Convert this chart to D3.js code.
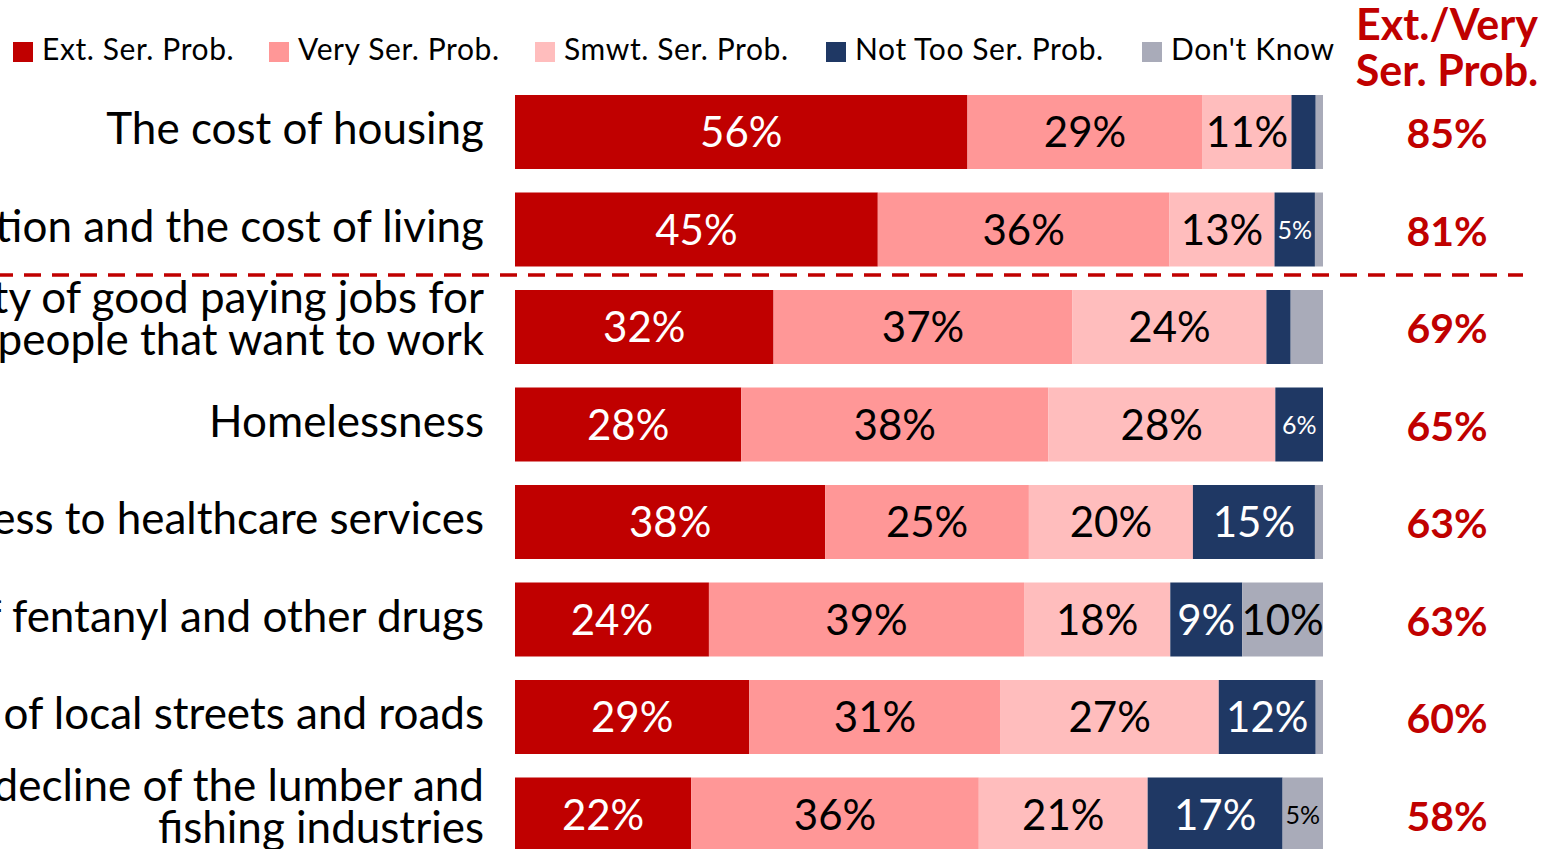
<!DOCTYPE html>
<html>
<head>
<meta charset="utf-8">
<script src="https://cdn.jsdelivr.net/npm/d3@7"></script>
<style>
  html, body { margin: 0; padding: 0; background: #fff; overflow: hidden; }
  svg { display: block; font-family: Lato, "Open Sans", sans-serif; }
</style>
</head>
<body>
<svg id="chart" width="1547" height="849"></svg>
<script>
// ---- data ----
const categories = [
  ["The cost of housing"],
  ["Inflation and the cost of living"],
  ["Availability of good paying jobs for", "people that want to work"],
  ["Homelessness"],
  ["Access to healthcare services"],
  ["Abuse of fentanyl and other drugs"],
  ["Condition of local streets and roads"],
  ["The decline of the lumber and", "fishing industries"]
];
const seriesNames = ["Ext. Ser. Prob.", "Very Ser. Prob.", "Smwt. Ser. Prob.", "Not Too Ser. Prob.", "Don't Know"];
const extSer   = [56.0, 44.9, 32.0, 28.0, 38.4, 24.0, 29.0, 21.8];
const verySer  = [29.1, 36.1, 37.0, 38.0, 25.2, 39.0, 31.1, 35.6];
const smwtSer  = [11.0, 13.0, 24.0, 28.1, 20.3, 18.1, 27.0, 20.9];
const notToo   = [3.0, 5.0, 3.0, 5.9, 15.1, 8.9, 12.0, 16.7];
const dontKnow = [0.9, 1.0, 4.0, 0.0, 1.0, 10.0, 0.9, 5.0];
const totals   = [85, 81, 69, 65, 63, 63, 60, 58];
const totalHeader = ["Ext./Very", "Ser. Prob."];

const colors = ["#c00000", "#ff9797", "#ffbdbd", "#1f3864", "#a9abb9"];
const labelColors = ["#ffffff", "#000000", "#000000", "#ffffff", "#000000"];
const series = [extSer, verySer, smwtSer, notToo, dontKnow];

// ---- layout ----
const svg = d3.select("#chart");
const x = d3.scaleLinear().domain([0, 100]).range([515, 1323]);
const y = d3.scaleBand().domain(d3.range(categories.length))
  .range([83.25, 863.25]).paddingInner(0.241).paddingOuter(0.1205);

const dark = "#c00000";

// stacked data
const rows = categories.map((c, i) => {
  let acc = 0;
  return series.map((s, k) => {
    const v = s[i];
    const seg = { row: i, k, v, x0: acc, x1: acc + v };
    acc += v;
    return seg;
  });
});

// bars
const g = svg.append("g");
rows.forEach(segs => {
  g.selectAll(null).data(segs.filter(d => d.v > 0)).enter().append("rect")
    .attr("x", d => x(d.x0))
    .attr("y", d => y(d.row))
    .attr("width", d => x(d.x1) - x(d.x0))
    .attr("height", y.bandwidth())
    .attr("fill", d => colors[d.k]);
  g.selectAll(null).data(segs.filter(d => Math.round(d.v) >= 5)).enter().append("text")
    .attr("x", d => (x(d.x0) + x(d.x1)) / 2)
    .attr("y", d => y(d.row) + y.bandwidth() / 2 + (Math.round(d.v) <= 6 ? 9 : 15))
    .attr("text-anchor", "middle")
    .attr("font-size", d => Math.round(d.v) <= 6 ? 25 : 42)
    .attr("fill", d => labelColors[d.k])
    .text(d => Math.round(d.v) + "%");
});

// category labels
categories.forEach((lines, i) => {
  const cy = y(i) + y.bandwidth() / 2;
  const t = svg.append("text")
    .attr("text-anchor", "end")
    .attr("font-size", 44)
    .attr("fill", "#000");
  const n = lines.length;
  lines.forEach((ln, j) => {
    t.append("tspan")
      .attr("x", 484)
      .attr("y", n > 1 ? cy - 14 + j * 42 : cy + 12)
      .text(ln);
  });
});

// totals
svg.selectAll(null).data(totals).enter().append("text")
  .attr("x", 1447)
  .attr("y", (d, i) => y(i) + y.bandwidth() / 2 + 16)
  .attr("text-anchor", "middle")
  .attr("font-size", 41)
  .attr("font-weight", "bold")
  .attr("fill", dark)
  .text(d => d + "%");

// header
svg.selectAll(null).data(totalHeader).enter().append("text")
  .attr("x", 1447)
  .attr("y", (d, i) => 40 + i * 46)
  .attr("text-anchor", "middle")
  .attr("font-size", 43)
  .attr("font-weight", "bold")
  .attr("fill", dark)
  .text(d => d);

// dashed separator
svg.append("line")
  .attr("x1", 0).attr("x2", 1523)
  .attr("y1", 275).attr("y2", 275)
  .attr("stroke", dark).attr("stroke-width", 3.5)
  .attr("stroke-dasharray", "17,11")
  .attr("stroke-dashoffset", 4);

// legend
const legendX = [13, 269, 535, 826, 1142];
const lg = svg.selectAll(null).data(seriesNames).enter().append("g")
  .attr("transform", (d, i) => `translate(${legendX[i]},0)`);
lg.append("rect").attr("x", 0).attr("y", 42).attr("width", 20).attr("height", 20)
  .attr("fill", (d, i) => colors[i]);
lg.append("text").attr("x", 29).attr("y", 60).attr("font-size", 30)
  .attr("letter-spacing", 0.6).attr("fill", "#000")
  .text(d => d);
</script>
</body>
</html>
